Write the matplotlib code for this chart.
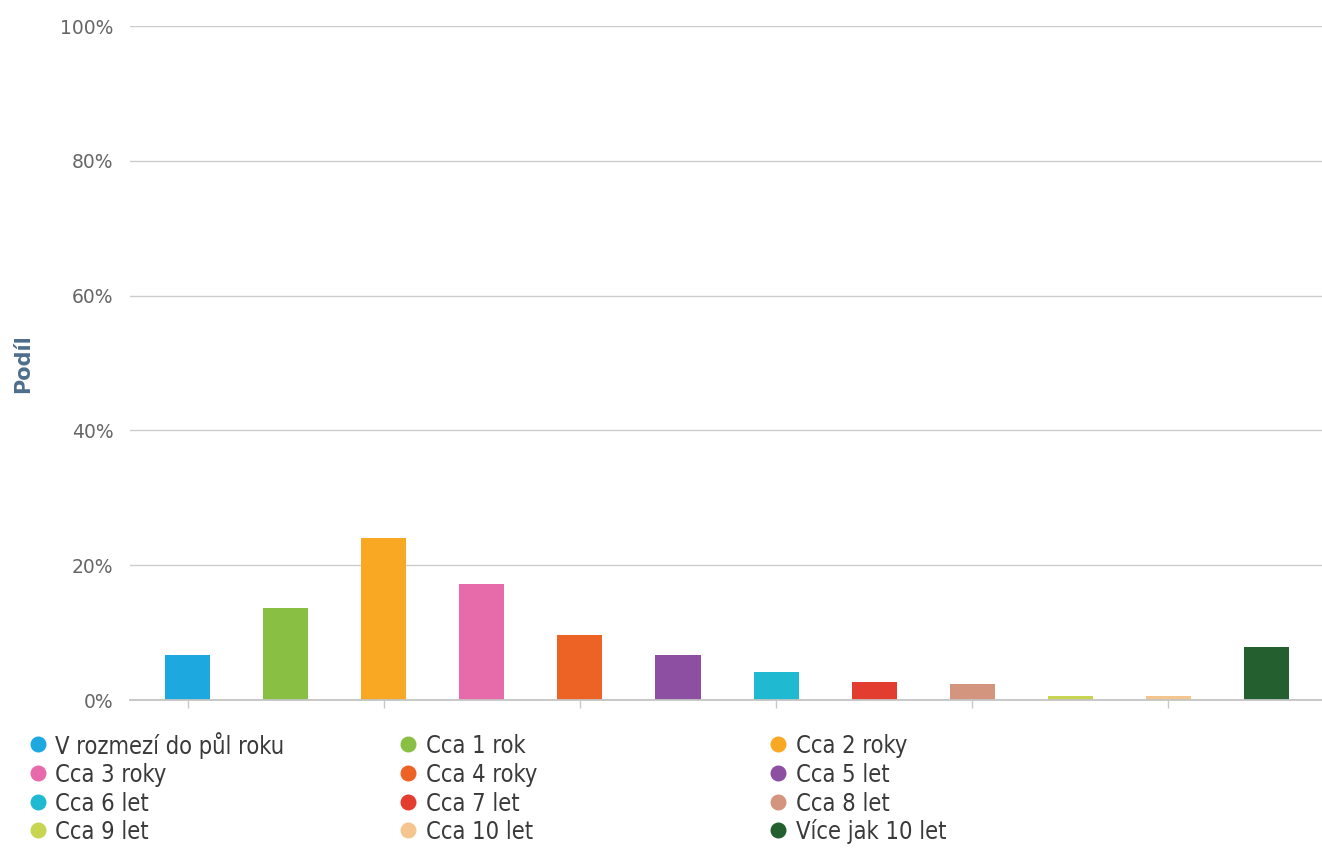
import matplotlib
matplotlib.use("Agg")
import matplotlib.pyplot as plt
from matplotlib.lines import Line2D

# Share of answers per duration category
categories = ["V rozmezí do půl roku", "Cca 1 rok", "Cca 2 roky", "Cca 3 roky",
              "Cca 4 roky", "Cca 5 let", "Cca 6 let", "Cca 7 let",
              "Cca 8 let", "Cca 9 let", "Cca 10 let", "Více jak 10 let"]
shares = [6.7, 13.7, 24.1, 17.2, 9.6, 6.7, 4.1, 2.6, 2.3, 0.6, 0.6, 7.9]
colors = ["#1ea8e0", "#89c044", "#f8a823", "#e76aaa", "#ec6325", "#8d4fa2",
          "#1fbad2", "#e33d2f", "#d4957f", "#c7d551", "#f5c58f", "#235f2f"]
y_ticks = [0, 20, 40, 60, 80, 100]

plt.rcParams['font.family'] = ['DejaVu Sans']

fig = plt.figure(figsize=(13.22, 8.48), dpi=100)
ax = fig.add_axes([130 / 1322, 148 / 848, 1192 / 1322, 674 / 848])

x = list(range(len(categories)))
ax.bar(x, shares, width=45 / 98, color=colors, zorder=3)

ax.set_xlim(-0.587, 11.566)
ax.set_ylim(0, 100)
ax.set_yticks(y_ticks)
ax.set_yticklabels([f"{t}%" for t in y_ticks], color="#666666", fontsize=13.5)
ax.tick_params(axis="y", length=0, pad=12)
ax.set_xticks(x[::2])
ax.set_xticklabels([])
ax.tick_params(axis="x", length=6, color="#c8c8c8", width=1)
ax.grid(axis="y", color="#cccccc", linewidth=1, zorder=0)

for side in ["top", "right", "left"]:
    ax.spines[side].set_visible(False)
ax.spines["bottom"].set_color("#c4c4c4")
ax.spines["bottom"].set_linewidth(1.3)
ax.spines["bottom"].set_zorder(4)

fig.text(23 / 1322, 1 - 364 / 848, "Podíl", rotation=90, ha="center", va="center",
         fontsize=15, fontweight="bold", color="#4d6e8c")

# legend laid out row by row in three columns
marker_x = [38, 408, 778]
text_x = [55, 426, 796]
row_y = [744, 773, 802, 830]
for i, (name, c) in enumerate(zip(categories, colors)):
    py = row_y[i // 3]
    fig.add_artist(Line2D([marker_x[i % 3] / 1322], [1 - py / 848], marker="o",
                          markersize=10.5, color=c, linestyle="none",
                          transform=fig.transFigure))
    fig.text(text_x[i % 3] / 1322, 1 - (py + 2) / 848, name, ha="left", va="center",
             fontsize=17, color="#3a3a3a", family="DejaVu Sans", stretch="condensed")

fig.savefig("out.png", dpi=100)
